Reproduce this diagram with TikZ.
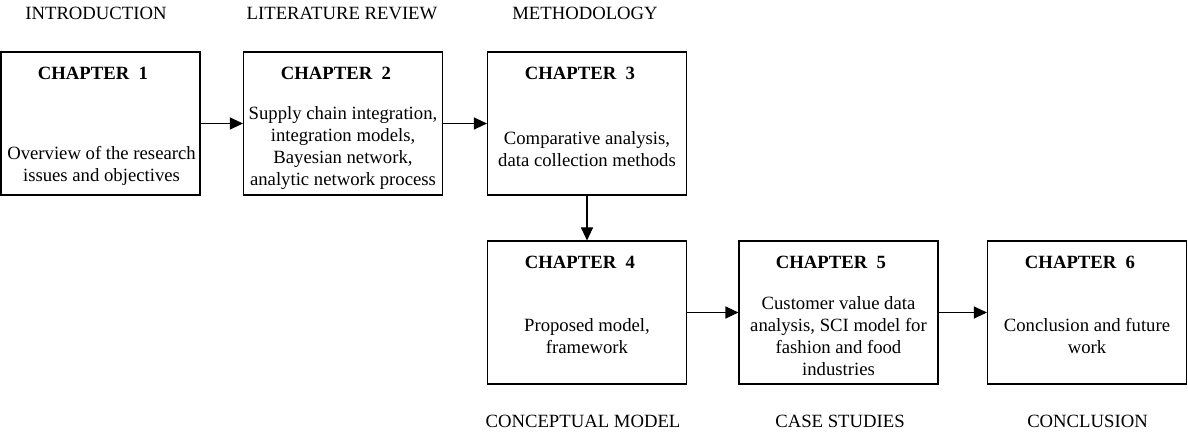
\documentclass[tikz,border=0pt]{standalone}
\usepackage{fontspec}
\setmainfont{Liberation Serif}
\usetikzlibrary{arrows.meta}
\begin{document}
\begin{tikzpicture}[x=1pt,y=-1pt,
  chapbox/.style={draw=black,line width=1.1pt,minimum width=199pt,minimum height=143pt,inner sep=0pt},
  heading/.style={font=\fontsize{18.7}{22}\selectfont\bfseries,inner sep=0pt},
  body/.style={font=\fontsize{18.7}{22}\selectfont,align=center,inner sep=0pt},
  phase/.style={font=\fontsize{18.7}{22}\selectfont,inner sep=0pt},
  flow/.style={line width=1.1pt,-{Triangle[length=13pt,width=12pt]}}]
\useasboundingbox (0,0) rectangle (1188,435);

% chapter boxes
\node[chapbox] (c1) at (100.5,123.5) {};
\node[chapbox] (c2) at (343,123.5) {};
\node[chapbox] (c3) at (587,123.5) {};
\node[chapbox] (c4) at (587,312.5) {};
\node[chapbox] (c5) at (838.5,312.5) {};
\node[chapbox] (c6) at (1087,312.5) {};

% headings
\node[heading] (h1) at (93,73) {CHAPTER\ \ 1};
\node[heading] (h2) at (336,73) {CHAPTER\ \ 2};
\node[heading] (h3) at (580,73) {CHAPTER\ \ 3};
\node[heading] (h4) at (580,262) {CHAPTER\ \ 4};
\node[heading] (h5) at (831,262) {CHAPTER\ \ 5};
\node[heading] (h6) at (1080,262) {CHAPTER\ \ 6};

% chapter contents
\node[body] (t1) at (101.5,166) {Overview of the research\\issues and objectives};
\node[body] (t2) at (343,148.5) {Supply chain integration,\\integration models,\\Bayesian network,\\analytic network process};
\node[body] (t3) at (587,149) {Comparative analysis,\\data collection methods};
\node[body] (t4) at (587,336) {Proposed model,\\framework};
\node[body] (t5) at (838.5,336) {Customer value data\\analysis, SCI model for\\fashion and food\\industries};
\node[body] (t6) at (1087,336.5) {Conclusion and future\\work};

% phase labels
\node[phase] (p1) at (96,13) {INTRODUCTION};
\node[phase] (p2) at (342,13) {LITERATURE REVIEW};
\node[phase] (p3) at (585,13) {METHODOLOGY};
\node[phase] (p4) at (583,421) {CONCEPTUAL MODEL};
\node[phase] (p5) at (840,421) {CASE STUDIES};
\node[phase] (p6) at (1087.5,421) {CONCLUSION};

% flow between chapters
\draw[flow] (c1.east) -- (c2.west);
\draw[flow] (c2.east) -- (c3.west);
\draw[flow] (c3.south) -- (c4.north);
\draw[flow] (c4.east) -- (c5.west);
\draw[flow] (c5.east) -- (c6.west);
\end{tikzpicture}
\end{document}
